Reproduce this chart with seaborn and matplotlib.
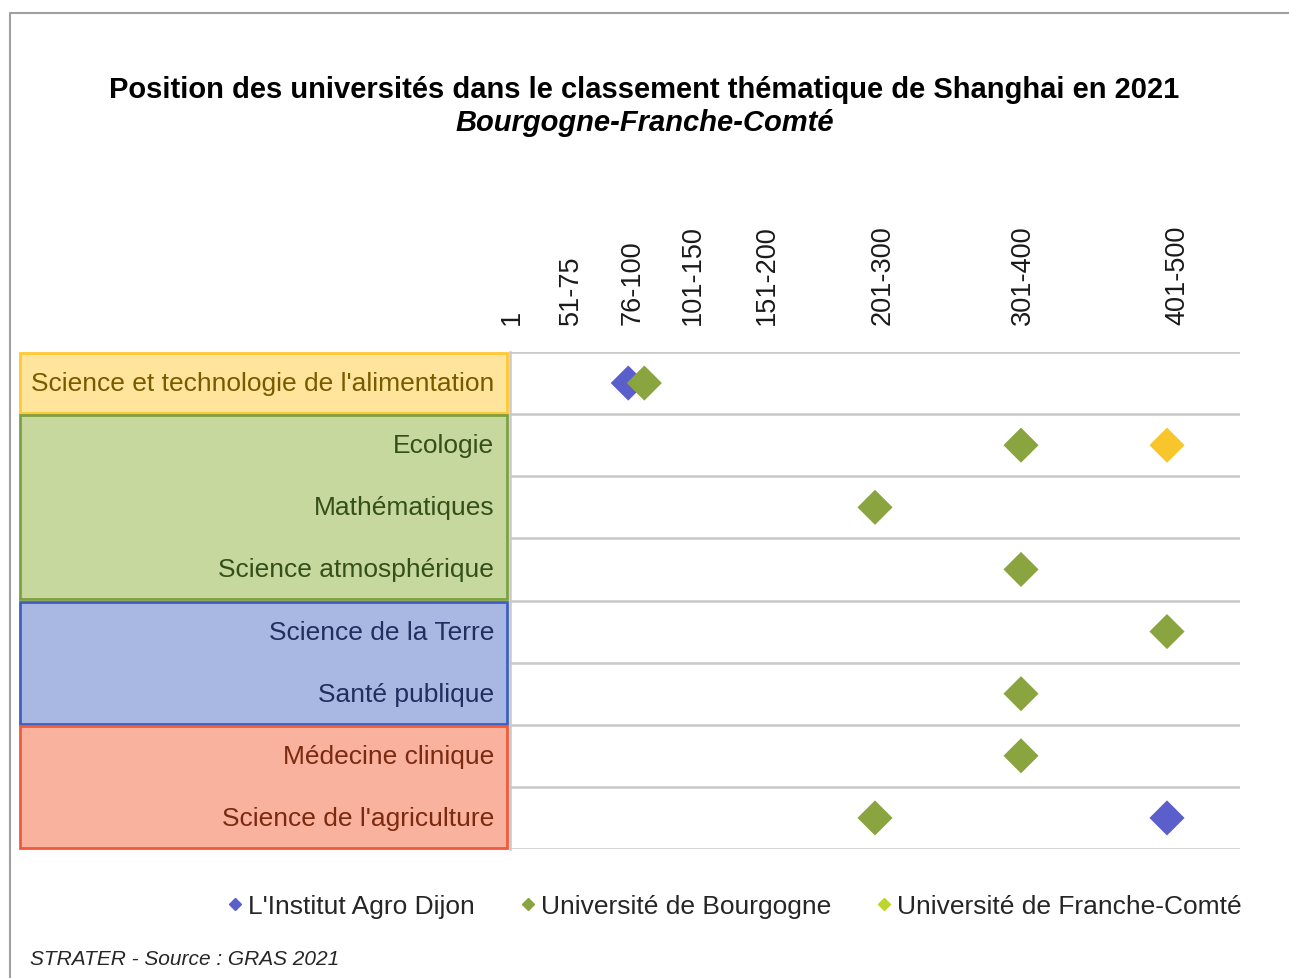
import pandas as pd
import matplotlib.pyplot as plt
import seaborn as sns
from matplotlib import font_manager
from matplotlib.lines import Line2D
from matplotlib.patches import Rectangle
from matplotlib.transforms import blended_transform_factory

# Ranking bands on the top axis (position on a 0-500 rank scale)
tick_pos = [1, 42, 84, 125, 176, 255, 351, 457]
tick_labels = ['1', '51-75', '76-100', '101-150', '151-200', '201-300', '301-400', '401-500']

subjects = ["Science et technologie de l'alimentation", 'Ecologie', 'Mathématiques',
            'Science atmosphérique', 'Science de la Terre', 'Santé publique',
            'Médecine clinique', "Science de l'agriculture"]

# rank position of each university per subject (None = not ranked)
agro_dijon = [81, None, None, None, None, None, None, 450]
u_bourgogne = [92, 350, 250, 350, 450, 350, 350, 250]
u_franche_comte = [None, 450, None, None, None, None, None, None]

universities = ["L'Institut Agro Dijon", 'Université de Bourgogne', 'Université de Franche-Comté']
colors = ['#5A5FCC', '#8AA440', '#F8C52A']
legend_colors = ['#5A5FCC', '#8AA440', '#BCD62E']

# subject groups: (first row, last row, fill, edge, text colour)
groups = [(0, 0, '#FFE49C', '#FFC832', '#7A5A00'),
          (1, 3, '#C6D89E', '#7FA040', '#34501A'),
          (4, 5, '#A9B8E2', '#3F5FC0', '#1F2F5F'),
          (6, 7, '#F9B29E', '#F25A3A', '#7A2A10')]

rows = []
for uni, vals in zip(universities, [agro_dijon, u_bourgogne, u_franche_comte]):
    for i, v in enumerate(vals):
        if v is not None:
            rows.append({'subject': subjects[i], 'row': i, 'rank': v, 'university': uni})
df = pd.DataFrame(rows)

sns.set_style('white')
names = {f.name for f in font_manager.fontManager.ttflist}
narrow = 'Liberation Sans Narrow' if 'Liberation Sans Narrow' in names else 'Liberation Sans'
plt.rcParams['font.family'] = ['Liberation Sans', 'DejaVu Sans']

fig = plt.figure(figsize=(12.89, 9.79), dpi=100)
ax = fig.add_axes([510 / 1289, 129 / 979, 730 / 1289, 497 / 979])

sns.scatterplot(data=df, x='rank', y='row', hue='university', hue_order=universities,
                palette=colors, marker='D', s=320, linewidth=0, legend=False, ax=ax, zorder=3)

ax.set_xlim(0, 500)
ax.set_ylim(7.5, -0.5)
ax.set_xlabel('')
ax.set_ylabel('')
ax.set_yticks([])
ax.xaxis.tick_top()
ax.set_xticks(tick_pos)
ax.set_xticklabels(tick_labels, rotation=90, fontsize=19.5, color='#1A1A1A')
ax.tick_params(axis='x', length=0, pad=20)
for b in range(9):
    ax.axhline(b - 0.5, color='#C8C8C8', lw=1.8, zorder=1)
for s in ['top', 'right', 'bottom']:
    ax.spines[s].set_visible(False)
ax.spines['left'].set_color('#C8C8C8')
ax.spines['left'].set_linewidth(1.8)

# coloured subject boxes on the left
tr = blended_transform_factory(fig.transFigure, ax.transData)
for first, last, fill, edge, tcol in groups:
    ax.add_patch(Rectangle((20 / 1289, first - 0.48), 487 / 1289, last - first + 0.96,
                           transform=tr, facecolor=fill, edgecolor=edge, lw=2, clip_on=False))
    for r in range(first, last + 1):
        ax.text(494 / 1289, r, subjects[r], transform=tr, ha='right', va='center',
                fontsize=19, color=tcol)

fig.text(0.5, 1 - 90 / 979, 'Position des universités dans le classement thématique de Shanghai en 2021',
         ha='center', va='center', fontsize=21, fontweight='bold', color='black')
fig.text(0.5, 1 - 123 / 979, 'Bourgogne-Franche-Comté', ha='center', va='center',
         fontsize=21, fontweight='bold', fontstyle='italic', color='black')

handles = [Line2D([], [], marker='D', ls='', color=c, markersize=6) for c in legend_colors]
fig.legend(handles, universities, loc='center', bbox_to_anchor=(733 / 1289, 1 - 907 / 979),
           ncol=3, frameon=False, handletextpad=0.1, columnspacing=1.6, handlelength=0.8,
           prop={'family': narrow, 'size': 19})

fig.text(30 / 1289, 1 - 960 / 979, 'STRATER - Source : GRAS 2021', ha='left', va='center',
         fontsize=15, fontstyle='italic', family=narrow, color='#262626')

# outer frame of the original graphic
fig.add_artist(Line2D([10 / 1289, 10 / 1289, 1.0], [0.0, 1 - 14 / 979, 1 - 14 / 979],
                      transform=fig.transFigure, color='#A0A0A0', lw=1.5))

fig.savefig('out.png', dpi=100)
